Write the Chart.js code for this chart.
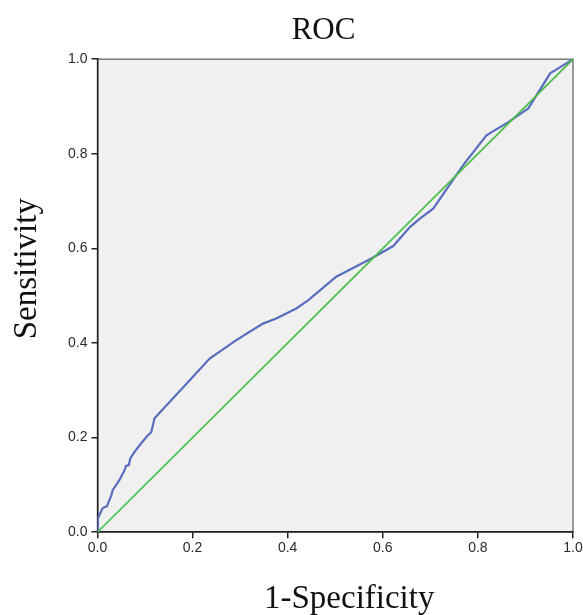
<!DOCTYPE html>
<html>
<head>
<meta charset="utf-8">
<script src="https://cdn.jsdelivr.net/npm/chart.js@4"></script>
<style>
  html, body { margin: 0; padding: 0; background: #fff; }
  #wrap { width: 583px; height: 615px; }
</style>
</head>
<body>
<div id="wrap"><canvas id="chartRoc" width="583" height="615"></canvas></div>
<script>
// curve (1-specificity, sensitivity)
const fpr = [0, 0.001, 0.004, 0.011, 0.02, 0.029, 0.032, 0.046, 0.057, 0.06, 0.066, 0.069, 0.078, 0.092, 0.106, 0.113, 0.12,
  0.159, 0.194, 0.236, 0.292, 0.348, 0.376, 0.418, 0.443, 0.502, 0.573, 0.622, 0.657, 0.678, 0.706, 0.769, 0.818, 0.864, 0.906, 0.952, 0.997, 1];
const tpr = [0, 0.03, 0.036, 0.051, 0.055, 0.078, 0.089, 0.11, 0.131, 0.14, 0.142, 0.156, 0.17, 0.188, 0.205, 0.211, 0.241,
  0.283, 0.321, 0.367, 0.406, 0.441, 0.452, 0.473, 0.49, 0.54, 0.577, 0.605, 0.645, 0.663, 0.684, 0.776, 0.839, 0.867, 0.896, 0.97, 0.998, 1];
const refX = [0, 1];
const refY = [0, 1];
const tickValues = [0, 0.2, 0.4, 0.6, 0.8, 1.0];
const tituloX = '1-Specificity';
const tituloY = 'Sensitivity';

const canvas = document.getElementById('chartRoc');
const context = canvas.getContext('2d');

const fondoPlot = {
  id: 'fondoPlot',
  beforeDraw(chart) {
    const { ctx, chartArea: a } = chart;
    ctx.save();
    ctx.fillStyle = '#f0f0f0';
    ctx.fillRect(a.left, a.top, a.right - a.left, a.bottom - a.top);
    ctx.strokeStyle = '#7a7a7a';
    ctx.lineWidth = 1.5;
    ctx.strokeRect(a.left, a.top, a.right - a.left, a.bottom - a.top);
    ctx.restore();
  },
  // axis titles, a bit off-centre like the original
  afterDraw(chart) {
    const { ctx, chartArea: a } = chart;
    ctx.save();
    ctx.fillStyle = '#111';
    ctx.font = '33px "Liberation Serif"';
    ctx.textAlign = 'center';
    ctx.textBaseline = 'middle';
    ctx.fillText(tituloX, (a.left + a.right) / 2 + 14, a.bottom + 67);
    ctx.translate(a.left - 70, (a.top + a.bottom) / 2 - 27);
    ctx.rotate(-Math.PI / 2);
    ctx.fillText(tituloY, 0, 0);
    ctx.restore();
  }
};

const puntos = (xs, ys) => xs.map((x, i) => ({ x: x, y: ys[i] }));

const tickFont = { family: 'Liberation Sans', size: 14 };

const chartRoc = new Chart(context, {
  type: 'scatter',
  data: {
    datasets: [
      {
        label: 'Referencia',
        data: puntos(refX, refY),
        showLine: true,
        borderColor: '#4cbf4c',
        borderWidth: 1.8,
        pointRadius: 0
      },
      {
        label: 'ROC',
        data: puntos(fpr, tpr),
        showLine: true,
        borderColor: '#5b6ebd',
        borderWidth: 2.2,
        pointRadius: 0,
        tension: 0
      }
    ]
  },
  options: {
    responsive: false,
    animation: false,
    layout: { padding: { top: 0, right: 0, bottom: 56, left: 64 } },
    plugins: {
      legend: { display: false },
      tooltip: { enabled: false },
      title: {
        display: true,
        text: 'ROC',
        color: '#111',
        font: { family: 'Liberation Serif', size: 31, weight: 'normal' },
        padding: { top: 12, bottom: 10 }
      }
    },
    scales: {
      x: {
        type: 'linear',
        min: 0, max: 1,
        afterBuildTicks: (axis) => { axis.ticks = tickValues.map(v => ({ value: v })); },
        afterFit: (axis) => { axis.paddingRight = 10; },
        ticks: {
          color: '#2a2a2a',
          font: tickFont,
          padding: 2,
          callback: (v) => v.toFixed(1)
        },
        grid: { drawOnChartArea: false, drawTicks: true, tickLength: 6, color: '#222', lineWidth: 1.5 },
        border: { display: true, color: '#222', width: 1.5 }
      },
      y: {
        type: 'linear',
        min: 0, max: 1,
        afterBuildTicks: (axis) => { axis.ticks = tickValues.map(v => ({ value: v })); },
        ticks: {
          color: '#2a2a2a',
          font: tickFont,
          padding: 4,
          callback: (v) => v.toFixed(1)
        },
        grid: { drawOnChartArea: false, drawTicks: true, tickLength: 6, color: '#222', lineWidth: 1.5 },
        border: { display: true, color: '#222', width: 1.5 }
      }
    }
  },
  plugins: [fondoPlot]
});
</script>
</body>
</html>
